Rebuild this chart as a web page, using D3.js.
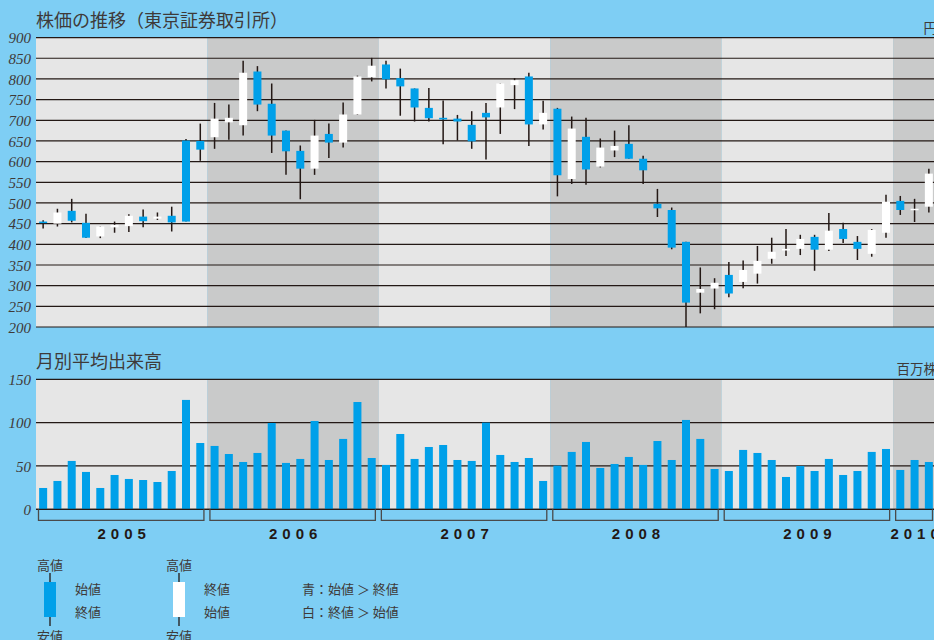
<!DOCTYPE html>
<html><head><meta charset="utf-8">
<script src="https://cdn.jsdelivr.net/npm/d3@7"></script>
<style>
html,body{margin:0;padding:0;background:#7ecef4;overflow:hidden;width:934px;height:640px}
svg{display:block}
</style></head>
<body>
<svg id="chart" width="940" height="640"></svg>
<script>
// ---- data ----
const years = ["2005","2006","2007","2008","2009","2010"];
const priceTicks = [200,250,300,350,400,450,500,550,600,650,700,750,800,850,900];
const volumeTicks = [0,50,100,150];
const openP  = [455,450,481,452,419,441,444,467,462,469,651,650, 659,695,688,818,740,675,626,583,667,646,714,804, 835,802,777,730,706,704,689,718,731,785,806,690, 728,558,660,588,627,643,607,498,483,406,283,293, 326,309,329,365,385,389,418,387,437,406,377,428, 505,483,491];
const highP  = [458,486,510,474,443,455,473,484,477,491,655,692, 742,738,844,831,789,675,639,701,692,743,808,851, 844,825,777,778,748,713,722,742,789,802,815,747, 730,709,706,656,675,688,614,534,489,406,344,318, 357,361,396,416,437,423,423,476,452,420,437,520, 517,510,583];
const lowP   = [438,443,453,415,415,428,430,441,459,431,455,602, 631,653,663,722,621,568,509,568,609,634,713,794, 777,711,697,697,642,651,631,605,667,727,638,678, 516,546,544,586,611,607,546,466,388,200,233,243, 272,294,305,353,372,374,336,384,403,362,370,416, 471,454,477];
const closeP = [452,477,457,416,443,447,469,456,467,453,455,629, 704,706,815,738,663,625,583,663,646,714,806,832, 799,782,731,705,702,697,649,707,789,797,690,718, 567,680,581,634,638,607,579,487,392,259,292,307, 281,338,360,382,389,413,387,433,413,389,435,503, 483,486,571];
const volume = [24.6,32.7,55.8,43.1,24.6,39.6,35.0,33.8,31.5,44.2,126.2,76.5, 73.1,63.8,54.6,65.0,99.6,53.5,58.1,101.9,56.9,81.2,123.8,59.2, 51.2,86.9,58.1,71.9,74.2,56.9,55.8,100.0,62.7,54.6,59.2,32.7, 50.4,66.2,77.7,47.7,52.3,60.4,51.2,78.8,56.9,103.1,81.2,46.5, 44.2,68.5,65.0,56.9,37.3,50.0,44.2,58.1,39.6,44.2,66.2,69.6, 45.4,56.9,54.6];
const titles = ["株価の推移（東京証券取引所）","月別平均出来高"];
const units = ["円","百万株"];
const legendLabels = ["高値","安値","始値","終値"];
const legendNotes = ["青：始値 ＞ 終値","白：終値 ＞ 始値"];

// ---- styles ----
const C = {blue:"#00a0e9", white:"#ffffff", light:"#e6e6e6", dark:"#c9caca", line:"#231815", text:"#3e3a39"};
const N = openP.length;
const L = 36, R = 936;
const svg = d3.select("#chart");

const xb = d3.scaleBand().domain(d3.range(N)).range([L,R]).paddingInner(0.44).paddingOuter(0.22);
const xl = d3.scaleLinear().domain([0,N]).range([L,R]);
const yP = d3.scaleLinear().domain([200,900]).range([327,37.6]);
const yV = d3.scaleLinear().domain([0,150]).range([509.3,379.3]);

const yearSpans = years.map((y,i)=>({y, s:i*12, e:Math.min(N,(i+1)*12)})).filter(d=>d.s<N);

function bands(g, yTop, yBot){
  g.selectAll("rect.band").data(yearSpans).join("rect").attr("class","band")
    .attr("x",d=>xl(d.s)).attr("width",d=>xl(d.e)-xl(d.s))
    .attr("y",yTop).attr("height",yBot-yTop)
    .attr("fill",(d,i)=>i%2? C.dark : C.light);
}
function grid(g, scale, ticks){
  g.selectAll("line.grid").data(ticks).join("line").attr("class","grid")
    .attr("x1",L).attr("x2",R+4).attr("y1",d=>scale(d)).attr("y2",d=>scale(d))
    .attr("stroke",C.line).attr("stroke-width",1.2);
}
function yAxis(g, scale, ticks){
  const ax = d3.axisLeft(scale).tickValues(ticks).tickSize(0).tickPadding(0).tickFormat(d3.format("d"));
  g.attr("transform","translate(31,0)").call(ax);
  g.select(".domain").remove();
  g.selectAll("text").attr("font-family","'Liberation Serif','Times New Roman',serif")
    .attr("font-style","italic").attr("font-size",15).attr("fill",C.text).attr("dy","0.34em");
}

// ---- price chart ----
const gP = svg.append("g");
bands(gP, yP(900), yP(200));
grid(gP, yP, priceTicks);
gP.append("g").call(yAxis, yP, priceTicks);
const idx = d3.range(N);
gP.selectAll("line.wick").data(idx).join("line").attr("class","wick")
  .attr("x1",i=>xb(i)+xb.bandwidth()/2).attr("x2",i=>xb(i)+xb.bandwidth()/2)
  .attr("y1",i=>yP(highP[i])).attr("y2",i=>yP(lowP[i]))
  .attr("stroke",C.line).attr("stroke-width",1.5);
gP.selectAll("rect.body").data(idx).join("rect").attr("class","body")
  .attr("x",i=>xb(i)).attr("width",xb.bandwidth())
  .attr("y",i=>yP(Math.max(openP[i],closeP[i])))
  .attr("height",i=>Math.max(1.5, Math.abs(yP(openP[i])-yP(closeP[i]))))
  .attr("fill",i=>openP[i]>closeP[i]? C.blue : C.white);

// ---- volume chart ----
const gV = svg.append("g");
bands(gV, yV(150), yV(0));
grid(gV, yV, volumeTicks);
gV.append("g").call(yAxis, yV, volumeTicks);
gV.selectAll("rect.vol").data(idx).join("rect").attr("class","vol")
  .attr("x",i=>xb(i)).attr("width",xb.bandwidth())
  .attr("y",i=>yV(volume[i])).attr("height",i=>yV(0)-yV(volume[i]))
  .attr("fill",C.blue);
gV.append("line").attr("x1",L).attr("x2",R+4).attr("y1",yV(0)).attr("y2",yV(0))
  .attr("stroke",C.line).attr("stroke-width",1.2);

// year brackets
const gY = svg.append("g");
gY.selectAll("path.br").data(yearSpans).join("path").attr("class","br")
  .attr("d",d=>{const a=xl(d.s)+2.5,b=xl(d.e)-3.5,t=yV(0),u=yV(0)+11;return `M${a},${t}V${u}H${b}V${t}`;})
  .attr("fill","none").attr("stroke","#4a4a4a").attr("stroke-width",1.3);
gY.selectAll("text.yr").data(yearSpans).join("text").attr("class","yr")
  .attr("x",d=>(xl(d.s)+xl(d.e))/2+2.5).attr("y",539)
  .attr("text-anchor","middle").attr("font-family","'Liberation Sans',Arial,sans-serif")
  .attr("font-weight","bold").attr("font-size",15).attr("letter-spacing","5px")
  .attr("fill","#231815").text(d=>d.y);

// titles & units
const jp = "'Noto Sans CJK JP','Noto Sans',sans-serif";
svg.append("text").attr("x",36).attr("y",27).attr("font-family",jp).attr("font-size",18).attr("fill",C.text).text(titles[0]);
svg.append("text").attr("x",36).attr("y",368).attr("font-family",jp).attr("font-size",18).attr("fill",C.text).text(titles[1]);
svg.append("text").attr("x",937).attr("y",32.5).attr("text-anchor","end").attr("font-family",jp).attr("font-size",13.5).attr("fill",C.text).text(units[0]);
svg.append("text").attr("x",937).attr("y",373.5).attr("text-anchor","end").attr("font-family",jp).attr("font-size",13.5).attr("fill",C.text).text(units[1]);

// legend
const gL = svg.append("g").attr("font-family",jp).attr("font-size",13).attr("fill",C.text);
const legendItems = [{cx:50, fill:C.blue, mid:[legendLabels[2],legendLabels[3]], tx:75},
                     {cx:179, fill:C.white, mid:[legendLabels[3],legendLabels[2]], tx:204}];
legendItems.forEach(it=>{
  gL.append("line").attr("x1",it.cx).attr("x2",it.cx).attr("y1",573).attr("y2",626).attr("stroke",C.line).attr("stroke-width",1.3);
  gL.append("rect").attr("x",it.cx-6).attr("y",582).attr("width",12).attr("height",35).attr("fill",it.fill);
  gL.append("text").attr("x",it.cx).attr("y",570).attr("text-anchor","middle").text(legendLabels[0]);
  gL.append("text").attr("x",it.cx).attr("y",641).attr("text-anchor","middle").text(legendLabels[1]);
  gL.append("text").attr("x",it.tx).attr("y",594).text(it.mid[0]);
  gL.append("text").attr("x",it.tx).attr("y",617).text(it.mid[1]);
});
gL.append("text").attr("x",302).attr("y",594).text(legendNotes[0]);
gL.append("text").attr("x",302).attr("y",617).text(legendNotes[1]);
</script>
</body></html>
